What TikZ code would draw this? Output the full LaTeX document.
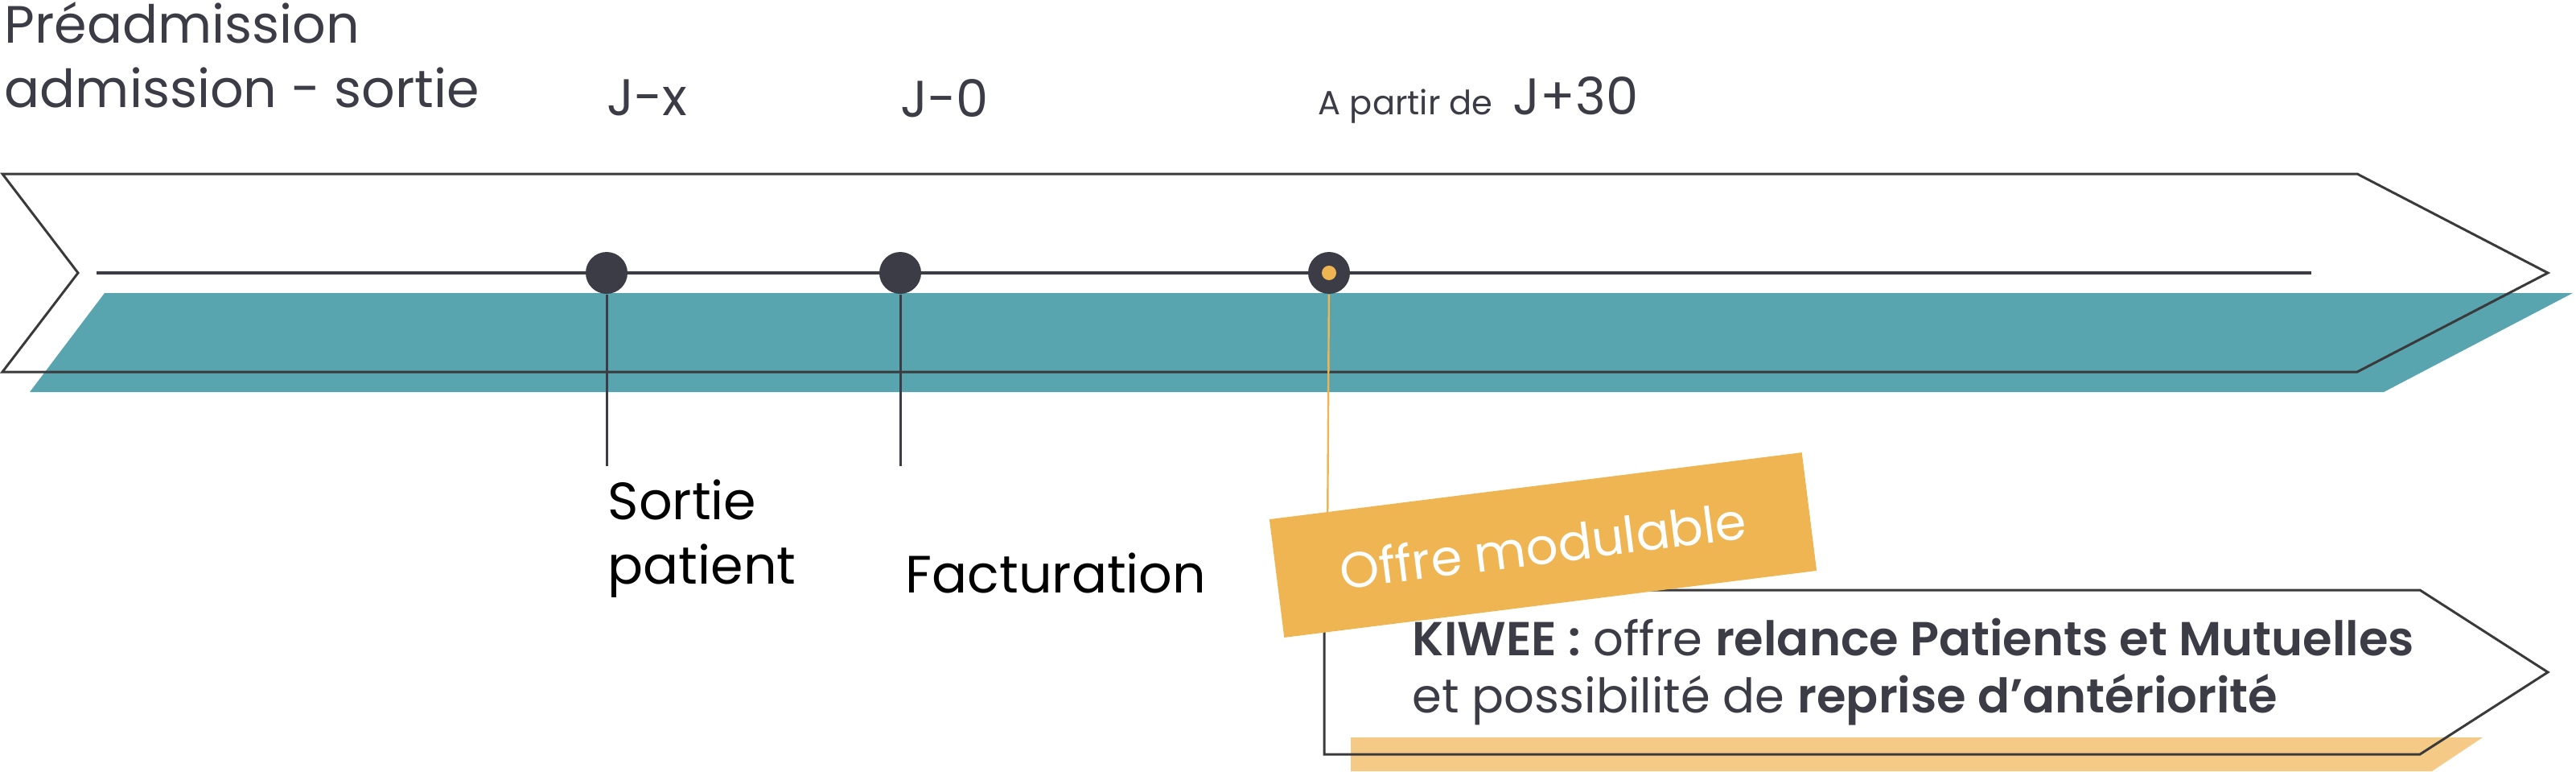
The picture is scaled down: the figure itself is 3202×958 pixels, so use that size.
\documentclass[tikz,border=0pt]{standalone}
\usepackage{fontspec}
\setmainfont{Poppins}[BoldFont={Poppins SemiBold}]
\usepackage{xcolor}
\usetikzlibrary{positioning}
\definecolor{ink}{HTML}{3C3C46}
\definecolor{outlinegray}{HTML}{3A3A3C}
\definecolor{bandteal}{HTML}{58A5AF}
\definecolor{offre}{HTML}{EFB552}
\definecolor{offrelight}{HTML}{F4CA86}
\tikzstyle{outline}=[draw=outlinegray,line width=0.75pt,line join=miter]
\tikzstyle{axis}=[draw=ink,line width=1pt]
\tikzstyle{dot}=[circle,fill=ink,inner sep=0pt,minimum size=13pt]
\tikzstyle{stem}=[draw=ink,line width=0.75pt]
\tikzstyle{toptext}=[inner sep=0pt,anchor=base west,text=ink,font=\fontsize{16.3}{20}\selectfont]
\tikzstyle{daytext}=[inner sep=0pt,anchor=base west,text=ink,font=\fontsize{16}{20}\selectfont]
\tikzstyle{smalltext}=[inner sep=0pt,anchor=base west,text=ink,font=\fontsize{10.4}{12}\selectfont]
\tikzstyle{eventtext}=[inner sep=0pt,anchor=base west,text=black,font=\fontsize{16.3}{20}\selectfont]
\tikzstyle{offrebox}=[fill=offre,text=white,inner sep=0pt,minimum width=166.75pt,minimum height=37pt,font=\fontsize{15.6}{18}\selectfont]
\tikzstyle{kiweetext}=[inner sep=0pt,anchor=base west,text=ink,font=\fontsize{14.8}{18}\selectfont]

\begin{document}
\begin{tikzpicture}[x=0.25pt,y=-0.25pt,font=\small]
    \useasboundingbox (0,0) rectangle (3202,958);

    % timeline band
    \fill[bandteal] (130,364) -- (3198,364) -- (2963,487) -- (37,487) -- cycle;
    \draw[outline] (3,216) -- (2930,216) -- (3167,339) -- (2930,462) -- (3,462) -- (97,339) -- cycle;
    \coordinate (axisstart) at (120,339);
    \coordinate (axisend) at (2873,339);
    \draw[axis] (axisstart) -- (axisend);

    % milestones
    \node[dot] (jx) at (754,339) {};
    \node[dot] (j0) at (1119,339) {};
    \node[dot] (j30) at (1652,339) {};
    \node[circle,fill=offre,inner sep=0pt,minimum size=4.5pt] (j30c) at (j30) {};
    \coordinate (jxend) at (754,579);
    \coordinate (j0end) at (1119,579);
    \coordinate (j30end) at (1650,680);
    \draw[stem] (jx) -- (jxend);
    \draw[stem] (j0) -- (j0end);
    \draw[draw=offre,line width=0.6pt] (j30) -- (j30end);

    % offre
    \fill[offrelight] (1679,916) -- (3086,916) -- (3023,958) -- (1679,958) -- cycle;
    \draw[outline] (1646,733) -- (3008,733) -- (3167,835) -- (3008,937) -- (1646,937) -- cycle;
    \node[offrebox,rotate=7.15] (offrelabel) at (1918,677) {Offre modulable};

    % texts
    \node[toptext] (pre1) at (5,53) {Préadmission};
    \node[toptext] (pre2) at (5,133) {admission - sortie};
    \node[daytext] (tjx) at (754,143) {J-x};
    \node[daytext] (tj0) at (1119,145) {J-0};
    \node[smalltext] (apartir) at (1638,142) {A partir de};
    \node[daytext] (tj30) at (1880,142) {J+30};
    \node[eventtext] (sortie1) at (755,645) {Sortie};
    \node[eventtext] (sortie2) at (755,725) {patient};
    \node[eventtext] (fact) at (1125,736) {Facturation};
    \node[kiweetext] (kiwee1) at (1755,814) {\textbf{KIWEE :} offre \textbf{relance Patients et Mutuelles}};
    \node[kiweetext] (kiwee2) at (1755,885) {et possibilité de \textbf{reprise d’antériorité}};
\end{tikzpicture}
\end{document}
